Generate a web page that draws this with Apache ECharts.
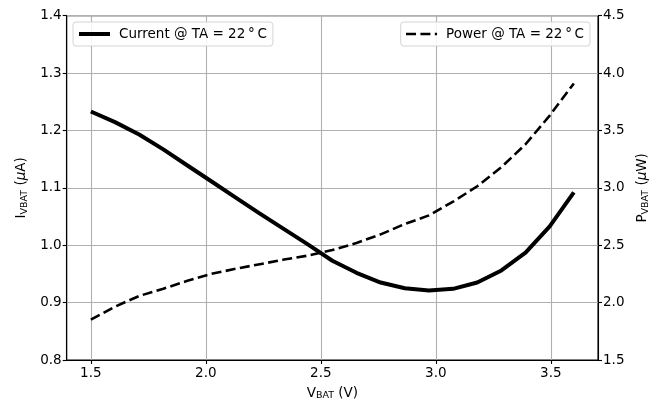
<!DOCTYPE html>
<html><head><meta charset="utf-8">
<script src="https://cdn.jsdelivr.net/npm/echarts@6/dist/echarts.min.js"></script>
<style>html,body{margin:0;padding:0;background:#fff}#c{width:663px;height:406px}</style>
</head><body><div id="c"></div>
<script>
const voltage = [1.5, 1.605, 1.71, 1.815, 1.92, 2.025, 2.13, 2.235, 2.34, 2.445, 2.55, 2.655, 2.76, 2.865, 2.97, 3.075, 3.18, 3.285, 3.39, 3.495, 3.6];
const current = [1.233, 1.2145, 1.193, 1.167, 1.139, 1.111, 1.083, 1.055, 1.028, 1.001, 0.973, 0.952, 0.935, 0.925, 0.921, 0.924, 0.935, 0.956, 0.987, 1.033, 1.092];
const power = [1.852, 1.965, 2.058, 2.121, 2.19, 2.251, 2.295, 2.335, 2.375, 2.41, 2.458, 2.52, 2.595, 2.685, 2.76, 2.88, 3.014, 3.18, 3.38, 3.63, 3.91];
const xTicks = [1.5, 2.0, 2.5, 3.0, 3.5];
const currentName = 'Current @ TA = 22\u2009°\u2009C';
const powerName = 'Power @ TA = 22\u2009°\u2009C';

const FONT = 'DejaVu Sans';
const FS = 13.5;
const chart = echarts.init(document.getElementById('c'), null, {renderer: 'canvas'});
const nameRich = {
  a: {fontFamily: FONT, fontSize: FS, color: '#000'},
  s: {fontFamily: FONT, fontSize: 9.5, color: '#000', padding: [6, 0, 0, 0]},
  i: {fontFamily: FONT, fontSize: FS, color: '#000', fontStyle: 'italic'}
};
const legendCommon = {
  top: 22, orient: 'horizontal',
  padding: [5, 6, 5, 4],
  itemWidth: 31, itemHeight: 14,
  itemStyle: {opacity: 0},
  textStyle: {fontFamily: FONT, fontSize: FS, color: '#000', padding: [0, 0, 0, 4]},
  borderColor: '#d4d4d4', borderWidth: 1, borderRadius: 3,
  backgroundColor: 'rgba(255,255,255,0.85)'
};
chart.setOption({
  animation: false,
  backgroundColor: '#fff',
  grid: {left: 66.7, right: 65, top: 15.7, bottom: 44.3, show: true, borderColor: '#000', borderWidth: 1.1, backgroundColor: 'transparent'},
  legend: [
    Object.assign({}, legendCommon, {data: [currentName], left: 73, lineStyle: {width: 4, color: '#000', type: 'solid', cap: 'butt'}}),
    Object.assign({}, legendCommon, {data: [powerName], right: 73, lineStyle: {width: 2.6, color: '#000', type: [10, 4.4], cap: 'butt'}})
  ],
  xAxis: {
    type: 'value', min: 1.395, max: 3.705,
    name: '{a|V}{s|BAT}{a| (V)}', nameLocation: 'middle', nameGap: 25,
    nameTextStyle: {rich: nameRich},
    axisLine: {show: true, lineStyle: {color: '#000', width: 1.1}},
    axisTick: {show: true, length: 4, lineStyle: {color: '#000', width: 1.1}, customValues: xTicks},
    axisLabel: {fontFamily: FONT, fontSize: FS, color: '#000', margin: 6, customValues: xTicks, formatter: v => v.toFixed(1)},
    splitLine: {show: true, lineStyle: {color: '#b0b0b0', width: 1.1}}
  },
  yAxis: [
    {
      type: 'value', min: 0.8, max: 1.4, interval: 0.1, position: 'left',
      name: '{a|I}{s|VBAT}{a| (}{i|μ}{a|A)}', nameLocation: 'middle', nameRotate: 90, nameGap: 33,
      nameTextStyle: {rich: nameRich},
      axisLine: {show: true, lineStyle: {color: '#000', width: 1.1}},
      axisTick: {show: true, length: 4, lineStyle: {color: '#000', width: 1.1}},
      axisLabel: {fontFamily: FONT, fontSize: FS, color: '#000', margin: 5, formatter: v => v.toFixed(1)},
      splitLine: {show: true, lineStyle: {color: '#b0b0b0', width: 1.1}}
    },
    {
      type: 'value', min: 1.5, max: 4.5, interval: 0.5, position: 'right',
      name: '{a|P}{s|VBAT}{a| (}{i|μ}{a|W)}', nameLocation: 'middle', nameRotate: 90, nameGap: 35,
      nameTextStyle: {rich: nameRich},
      axisLine: {show: true, lineStyle: {color: '#000', width: 1.1}},
      axisTick: {show: true, length: 4, lineStyle: {color: '#000', width: 1.1}},
      axisLabel: {fontFamily: FONT, fontSize: FS, color: '#000', margin: 5, formatter: v => v.toFixed(1)},
      splitLine: {show: false}
    }
  ],
  series: [
    {
      name: currentName, type: 'line', yAxisIndex: 0, symbol: 'none', smooth: false,
      lineStyle: {color: '#000', width: 4, cap: 'butt', join: 'round'},
      itemStyle: {color: '#000', opacity: 0},
      data: voltage.map((v, i) => [v, current[i]])
    },
    {
      name: powerName, type: 'line', yAxisIndex: 1, symbol: 'none', smooth: false,
      lineStyle: {color: '#000', width: 2.6, type: [10, 4.4], cap: 'butt'},
      itemStyle: {color: '#000', opacity: 0},
      data: voltage.map((v, i) => [v, power[i]])
    }
  ]
});
</script></body></html>
